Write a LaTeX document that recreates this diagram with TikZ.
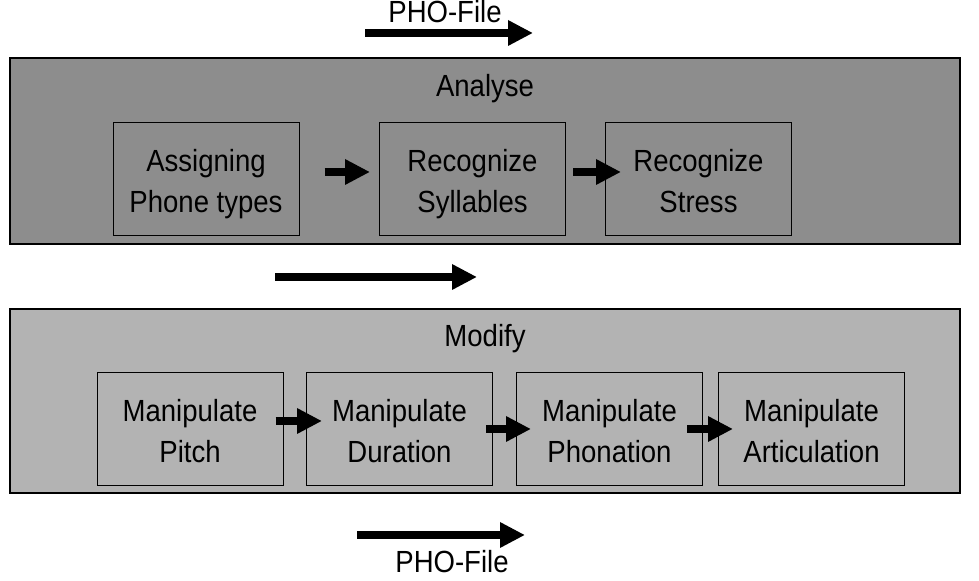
\documentclass[tikz,border=0pt]{standalone}
\usepackage{fontspec}
\setmainfont{Liberation Sans}[FakeStretch=0.9]
\usepackage{tikz}
\usetikzlibrary{arrows.meta, calc}
\definecolor{analyseGray}{RGB}{141,141,141}
\definecolor{modifyGray}{RGB}{179,179,179}
\newcommand\stepstrut{\rule[-1pt]{0pt}{15pt}}
\newcommand\steptext[2]{\stepstrut\smash{#1}\\\stepstrut\smash{#2}}

\begin{document}
\begin{tikzpicture}[x=0.5pt, y=-0.5pt, font=\fontsize{15.3}{20.5}\selectfont]
    \tikzset{
      stage/.style={
        draw=black,
        line width=0.6pt,
        rectangle,
        minimum width=475pt,
        inner sep=0pt,
      },
      stepbox/.style={
        draw=black,
        line width=0.5pt,
        rectangle,
        align=center,
        minimum width=93pt,
        minimum height=56.5pt,
        inner sep=0pt,
      },
      flow/.style={
        line width=4pt,
        -{Triangle[length=12.5pt,width=12pt]},
      },
      lbl/.style={inner sep=0pt, anchor=base}
    }

    \useasboundingbox (0,0) rectangle (979,581);

    % outer stages
    \node[stage, fill=analyseGray, minimum height=93pt] (ana) at (485,151) {};
    \node[stage, fill=modifyGray,  minimum height=92pt] (mod) at (485,401) {};
    \node[lbl] (ana-t) at (485,97)  {Analyse};
    \node[lbl] (mod-t) at (485,347) {Modify};

    % analyse steps
    \node[stepbox] (a-1) at (206,179.5)   {\steptext{Assigning}{Phone types}};
    \node[stepbox] (a-2) at (472.5,179.5) {\steptext{Recognize}{Syllables}};
    \node[stepbox] (a-3) at (698.5,179.5) {\steptext{Recognize}{Stress}};

    % modify steps
    \node[stepbox] (m-1) at (190,429)   {\steptext{Manipulate}{Pitch}};
    \node[stepbox] (m-2) at (399.5,429) {\steptext{Manipulate}{Duration}};
    \node[stepbox] (m-3) at (609.5,429) {\steptext{Manipulate}{Phonation}};
    \node[stepbox] (m-4) at (811.5,429) {\steptext{Manipulate}{Articulation}};

    % arrow ends
    \coordinate (in-s)  at (365,33);
    \coordinate (in-e)  at (533,33);
    \coordinate (mid-s) at (275,277);
    \coordinate (mid-e) at (477,277);
    \coordinate (out-s) at (357,535);
    \coordinate (out-e) at (525,535);
    \node[lbl] (in-l)  at (445,23)  {PHO-File};
    \node[lbl] (out-l) at (452,573) {PHO-File};

    \draw[flow] (in-s) -- (in-e);
    \draw[flow] (mid-s) -- (mid-e);
    \draw[flow] (out-s) -- (out-e);

    % between the steps
    \draw[flow] ($(a-1.east)+(25,-7.5)$) -- ($(a-2.west)+(-9,-7.5)$);
    \draw[flow] ($(a-2.east)+(7,-7.5)$)  -- ($(a-3.west)+(16,-7.5)$);
    \draw[flow] ($(m-1.east)+(-8,-8)$)   -- ($(m-2.west)+(16,-8)$);
    \draw[flow] ($(m-2.east)+(-7,0)$)    -- ($(m-3.west)+(15,0)$);
    \draw[flow] ($(m-3.east)+(-16,0)$)   -- ($(m-4.west)+(15,0)$);
\end{tikzpicture}
\end{document}
